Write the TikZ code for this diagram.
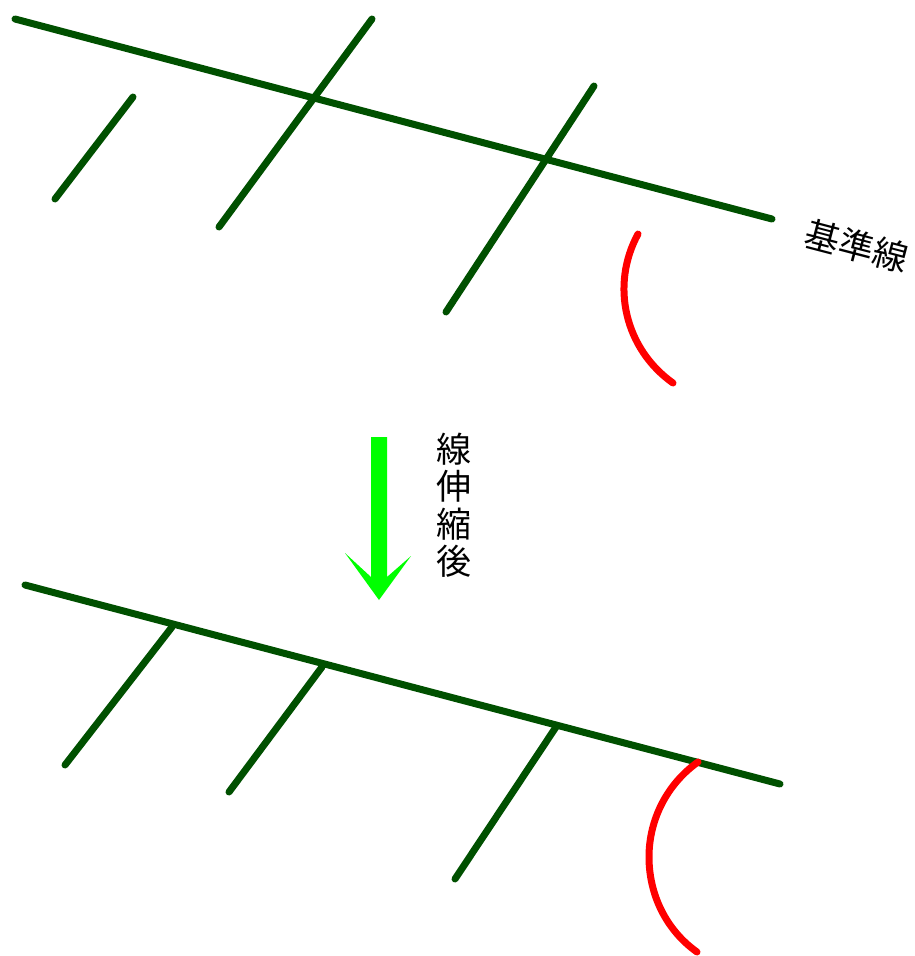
\documentclass[tikz,border=0pt]{standalone}
\usepackage{fontspec}
\newfontfamily\cjk{Noto Sans CJK JP}
\definecolor{lineGreen}{RGB}{0,80,0}
\definecolor{arrowGreen}{RGB}{0,255,0}
\definecolor{arcRed}{RGB}{255,0,0}
\begin{document}
\begin{tikzpicture}[x=1pt,y=-1pt,
  gline/.style={draw=lineGreen,line width=7pt,line cap=round},
  rline/.style={draw=arcRed,line width=7pt,line cap=round},
  cjktext/.style={font=\cjk\fontsize{35}{37.5}\selectfont,inner sep=0pt,align=center}]
\useasboundingbox (0,0) rectangle (914,956);
% ---- top (before) ----
\coordinate (tA) at (15,19);
\coordinate (tB) at (772,219);
\coordinate (t1a) at (133,97);
\coordinate (t1b) at (55,199);
\coordinate (t2a) at (372,19);
\coordinate (t2b) at (219,227);
\coordinate (t3a) at (594,86);
\coordinate (t3b) at (446,312);
\coordinate (tr1) at (638,234);
\coordinate (tr2) at (673,383);
\draw[gline] (tA) -- (tB);
\draw[gline] (t1a) -- (t1b);
\draw[gline] (t2a) -- (t2b);
\draw[gline] (t3a) -- (t3b);
\draw[rline] (tr1) .. controls (610,285.5) and (625,349) .. (tr2);
\node[cjktext,rotate=-14.66] (lbl) at (857,246) {基準線};
% ---- arrow ----
\path[fill=arrowGreen] (371,437) -- (387,437) -- (387,577) -- (411,556) -- (379,600) -- (345,553) -- (371,577) -- cycle;
\node[cjktext] (cap) at (453.5,505) {線\\伸\\縮\\後};
% ---- bottom (after) ----
\coordinate (bA) at (25,585);
\coordinate (bB) at (780,784);
\coordinate (b1a) at (172,627);
\coordinate (b1b) at (65,765);
\coordinate (b2a) at (322,667);
\coordinate (b2b) at (229,792);
\coordinate (b3a) at (556,727);
\coordinate (b3b) at (455,879);
\coordinate (br1) at (698,762);
\coordinate (br2) at (649,857);
\coordinate (br3) at (697,952);
\draw[gline] (bA) -- (bB);
\draw[gline] (b1a) -- (b1b);
\draw[gline] (b2a) -- (b2b);
\draw[gline] (b3a) -- (b3b);
\draw[rline] (br1) .. controls (667.2,783.9) and (649,819.2) .. (br2)
  .. controls (649,894.8) and (666.2,930.1) .. (br3);
\end{tikzpicture}
\end{document}
